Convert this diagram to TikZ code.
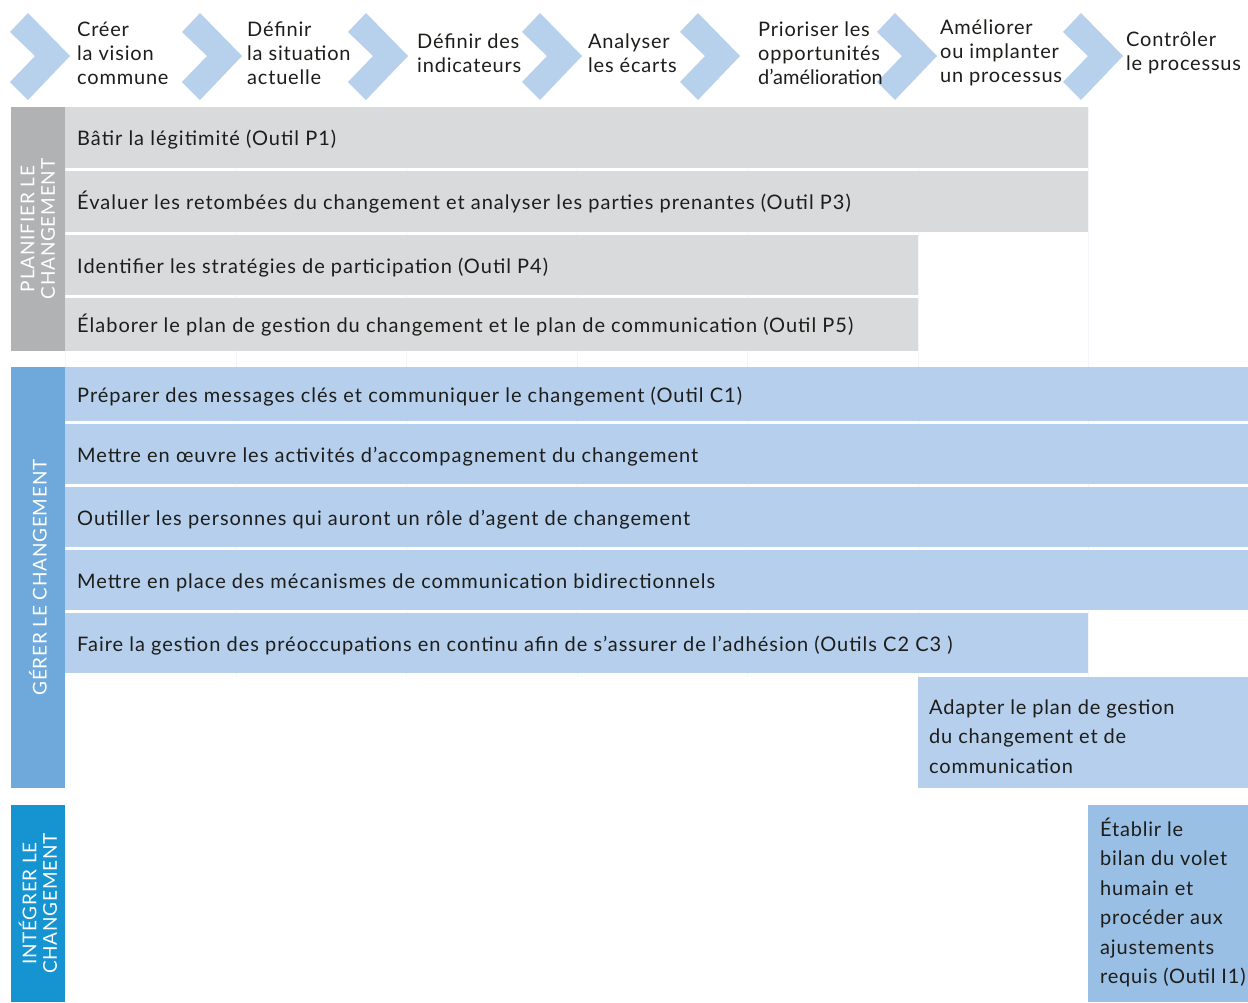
\documentclass[tikz,border=0pt]{standalone}
\usepackage{fontspec}
\setmainfont{Lato}[LetterSpace=4]
\definecolor{chevblue}{HTML}{B7D0EC}
\definecolor{plangray}{HTML}{B1B2B4}
\definecolor{planbar}{HTML}{D9DADC}
\definecolor{gerblue}{HTML}{6FA9DC}
\definecolor{gerbar}{HTML}{B5CFEC}
\definecolor{intblue}{HTML}{1594D1}
\definecolor{intbar}{HTML}{9ABFE4}
\definecolor{ink}{HTML}{1D1D1B}
\definecolor{gridcol}{HTML}{F2F5F9}

% one horizontal activity bar: name, style, x1, y1, x2, y2, text
\newcommand\rowbar[7]{%
  \node[#2, anchor=north west, minimum width={#5-#3}, minimum height={#6-#4}] (#1) at (#3,#4) {};
  \node[bartext, anchor=base west] (#1t) at ([xshift=12pt,yshift=-8pt]#1.west) {#7};}

\begin{document}
\begin{tikzpicture}[x=1pt,y=-1pt,
  box/.style={inner sep=0pt, outer sep=0pt},
  pbar/.style={box, fill=planbar},
  gbar/.style={box, fill=gerbar},
  ibar/.style={box, fill=intbar},
  bartext/.style={inner sep=0pt, text=ink, font=\fontsize{20}{24}\selectfont\addfontfeatures{LetterSpace=5}},
  headtext/.style={inner sep=0pt, text=ink, align=left, anchor=west, font=\fontsize{20}{24}\selectfont},
  blocktext/.style={inner sep=0pt, text=ink, align=left, anchor=west, font=\fontsize{20}{29.5}\selectfont},
  vlabel/.style={inner sep=0pt, text=white, align=center, rotate=90, font=\fontsize{19}{20.5}\selectfont},
  chev/.style={fill=chevblue},
  gridline/.style={draw=gridcol, line width=1pt}]
\useasboundingbox (0,0) rectangle (1248,1002);
\fill[white] (0,0) rectangle (1248,1002);

% faint column grid
\foreach \gx in {65,236,406,577,747,918,1088}
  \draw[gridline] (\gx,107) -- (\gx,677);

% process chevrons
\foreach \tip in {70,242,408,582,740,937,1123}
  \fill[chev, shift={(\tip,0)}] (-60,32) -- (-42,13) -- (0,56) -- (-42,100) -- (-60,82) -- (-35,56) -- cycle;

% process steps
\node[headtext] (h1) at (77,53)   {Créer\\la vision\\commune};
\node[headtext] (h2) at (247,53)  {Définir\\la situation\\actuelle};
\node[headtext] (h3) at (417,53)  {Définir des\\indicateurs};
\node[headtext] (h4) at (588,53)  {Analyser\\les écarts};
\node[headtext] (h5) at (758,53)  {Prioriser les\\opportunités\\{\addfontfeatures{LetterSpace=0}d’amélioration}};
\node[headtext] (h6) at (940,53)  {Améliorer\\ou implanter\\un processus};
\node[headtext] (h7) at (1126,53) {Contrôler\\le processus};

% phase labels
\node[box, fill=plangray, anchor=north west, minimum width=54, minimum height=244] (plan) at (11,107) {};
\node[vlabel] (planlbl) at (plan.center) {PLANIFIER LE\\CHANGEMENT};
\node[box, fill=gerblue, anchor=north west, minimum width=54, minimum height=421] (ger) at (11,367) {};
\node[vlabel] (gerlbl) at (ger.center) {GÉRER LE CHANGEMENT};
\node[box, fill=intblue, anchor=north west, minimum width=54, minimum height=197] (int) at (11,805) {};
\node[vlabel] (intlbl) at (int.center) {INTÉGRER LE\\CHANGEMENT};

% planning activities
\rowbar{p1}{pbar}{65}{107}{1088}{168}{Bâtir la légitimité (Outil P1)}
\rowbar{p3}{pbar}{65}{171}{1088}{232}{Évaluer les retombées du changement et analyser les parties prenantes (Outil P3)}
\rowbar{p4}{pbar}{65}{235}{918}{295}{Identifier les stratégies de participation (Outil P4)}
\rowbar{p5}{pbar}{65}{298}{918}{351}{Élaborer le plan de gestion du changement et le plan de communication (Outil P5)}

% management activities
\rowbar{c1}{gbar}{65}{367}{1248}{421}{Préparer des messages clés et communiquer le changement (Outil C1)}
\rowbar{c2}{gbar}{65}{424}{1248}{484}{Mettre en œuvre les activités d’accompagnement du changement}
\rowbar{c3}{gbar}{65}{487}{1248}{547}{Outiller les personnes qui auront un rôle d’agent de changement}
\rowbar{c4}{gbar}{65}{550}{1248}{610}{Mettre en place des mécanismes de communication bidirectionnels}
\rowbar{c5}{gbar}{65}{613}{1088}{673}{Faire la gestion des préoccupations en continu afin de s’assurer de l’adhésion (Outils C2 C3 )}

\node[gbar, anchor=north west, minimum width=330, minimum height=111] (adapt) at (918,677) {};
\node[blocktext] (adaptt) at ([xshift=11pt,yshift=-4pt]adapt.west) {Adapter le plan de gestion\\du changement et de\\communication};

% integration activity
\node[ibar, anchor=north west, minimum width=160, minimum height=197] (bilan) at (1088,805) {};
\node[blocktext] (bilant) at ([xshift=12pt,yshift=1pt]bilan.west) {Établir le\\bilan du volet\\humain et\\procéder aux\\ajustements\\requis (Outil I1)};
\end{tikzpicture}
\end{document}
